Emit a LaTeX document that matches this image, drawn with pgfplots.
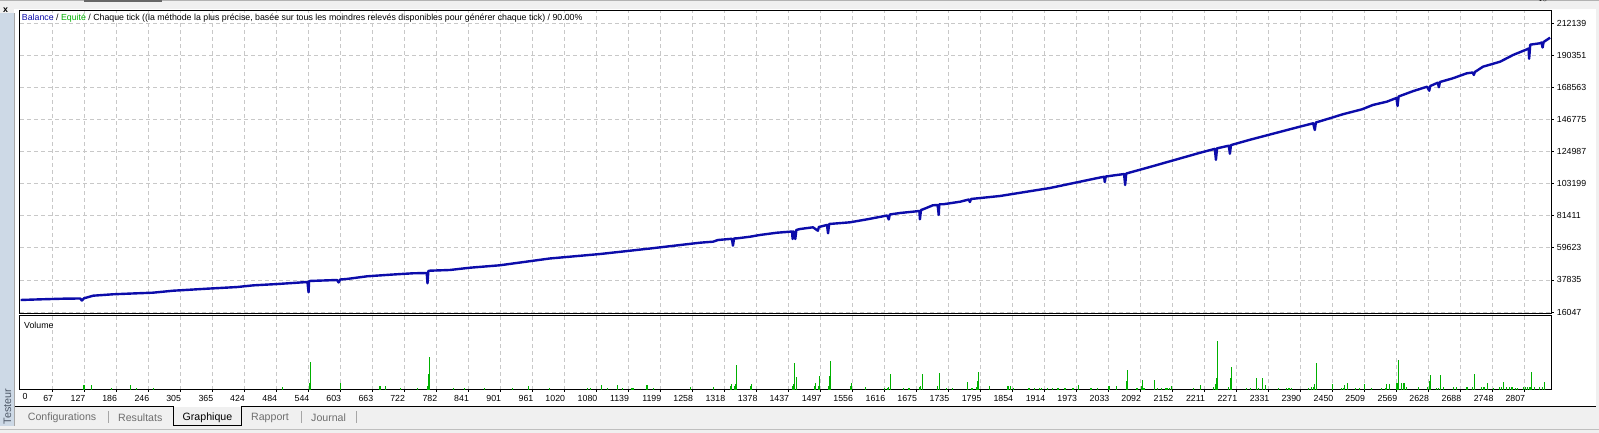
\documentclass[border=0pt]{standalone}
\usepackage{pgfplots}
\pgfplotsset{compat=1.18}
\usepackage{fontspec}
\setmainfont{Liberation Sans}
\definecolor{bal}{RGB}{12,12,170}
\definecolor{eq}{RGB}{0,176,0}
\definecolor{volg}{RGB}{0,176,0}
\definecolor{gridc}{RGB}{200,200,200}
\definecolor{winbg}{RGB}{240,240,240}
\definecolor{strip}{RGB}{205,217,230}
\definecolor{tabtxt}{RGB}{110,110,110}
\newcommand{\sm}{\fontsize{8.8}{10}\selectfont}

\begin{document}
\begin{tikzpicture}[x=1pt,y=1pt]
\useasboundingbox (0,0) rectangle (1599,433);
\fill[winbg] (0,0) rectangle (1599,433);
\draw[gray!60, line width=1pt] (0,432) -- (1599,432);
\draw[gray!80!black, line width=2pt] (84,432) -- (162,432);
\fill[white] (14,26) rectangle (1596,424);
\fill[strip] (0,7) rectangle (14,420);
\draw[gray!70] (14.5,7) -- (14.5,420);
\node[font=\bfseries\sm, inner sep=0pt] at (5.5,423) {x};
\node[rotate=90, inner sep=0pt, text={rgb,255:red,80;green,90;blue,105}, font=\fontsize{10.8}{12}\selectfont] at (7.5,26.5) {Testeur};
% tab bar
\draw[black, line width=1pt] (15,26) -- (173.6,26) -- (173.6,7) -- (241.8,7) -- (241.8,26) -- (1596,26);
\draw[gray!50, line width=1pt] (0,3) -- (1599,3);
\foreach \xx in {108,301,356} \draw[gray!70, line width=0.8pt] (\xx,10) -- (\xx,22);
\begin{scope}[font=\fontsize{10.6}{12}\selectfont]
\node[anchor=west, inner sep=0pt, text=tabtxt] at (27.7,15.5) {Configurations};
\node[anchor=west, inner sep=0pt, text=tabtxt] at (118,15.5) {Resultats};
\node[anchor=west, inner sep=0pt, text=black] at (182.5,15.5) {Graphique};
\node[anchor=west, inner sep=0pt, text=tabtxt] at (251,15.5) {Rapport};
\node[anchor=west, inner sep=0pt, text=tabtxt] at (311,15.5) {Journal};
\end{scope}

\begin{axis}[
  at={(20pt,119pt)}, anchor=south west, scale only axis,
  width=1531.7pt, height=303.3pt,
  xmin=6.9, xmax=2858, ymin=14689, ymax=220690,
  xtick={67,127,186,246,305,365,424,484,544,603,663,722,782,841,901,961,1020,1080,1139,1199,1258,1318,1378,1437,1497,1556,1616,1675,1735,1795,1854,1914,1973,2033,2092,2152,2211,2271,2331,2390,2450,2509,2569,2628,2688,2748,2807},
  xticklabels={},
  x tick style={draw=none},
  ytick={16047,37835,59623,81411,103199,124987,146775,168563,190351,212139},
  yticklabels={16047,37835,59623,81411,103199,124987,146775,168563,190351,212139},
  ytick pos=right, yticklabel pos=right,
  y tick style={black, line width=0.8pt},
  tick align=outside, major tick length=2pt,
  yticklabel style={anchor=west, inner sep=0pt, font=\sm, xshift=3pt},
  grid=major,
  major grid style={gridc, dash pattern=on 4pt off 3pt, line width=0.8pt},
  axis line style={black, line width=1pt},
]
\addplot[bal, line width=2.4pt, line join=round] coordinates {
(8,24200) (47,24670) (87,25080) (119,25220) (122,23850) (126,25350)
(143,27120) (180,28070) (225,28750) (254,29150) (292,30500) (355,31870)
(411,33000) (441,34140) (485,35020) (542,36420) (544,29420) (545,37100)
(560,37300) (597,37780) (600,36100) (603,38120) (615,38460) (653,40290)
(696,41380) (738,42330) (764,42530) (765.4,35540) (767,43890) (770,44100)
(807,44580) (845,46140) (900,47770) (993,52390) (1087,55440) (1180,59180)
(1273,63120) (1297,63800) (1306,64940) (1332,65780) (1334,61080) (1336,65970)
(1342,66100) (1366,67190) (1384,68350) (1416,69900) (1440,70580)
(1444,70720) (1445,65630) (1447,70800) (1450,65630) (1452,71760) (1459,72420)
(1483,73570) (1492,71260) (1494,73780) (1509,75140) (1511,69500) (1513,75820)
(1520,76020) (1552,76970) (1584,79000) (1621,81590) (1624,78870) (1626,82270)
(1645,83290) (1669,84170) (1681,84650) (1682,79000) (1684,85320) (1688,85800)
(1706,88510) (1715,88720) (1717,81930) (1718,89200) (1725,89200) (1757,90960)
(1773,92460) (1775,90760) (1777,92800) (1831,94830) (1924,100260)
(2017,107370) (2025,107900) (2026,104340) (2028,108080)
(2062,109750) (2064,102300) (2066,110090) (2110,114530) (2203,124150)
(2231,126850) (2233,119400) (2235,127200) (2257,129000) (2259,123500) (2261,129400)
(2296,133000) (2389,141900) (2414,144210) (2417,139660) (2419,144750)
(2445,147610) (2469,150330) (2505,153720) (2525,156640) (2551,158880)
(2569,161400) (2571,155960) (2573,162410) (2600,166060)
(2626,169070) (2630,166350) (2632,169540) (2646,171790) (2648,168660) (2650,172260)
(2674,174780) (2700,178170) (2711,178720) (2713,177020) (2715,179050)
(2730,182650) (2762,186050) (2786,190600) (2812,194470)
(2815,195020) (2816,188090) (2818,197610) (2836,198550)
(2839,199090) (2841,195680) (2843,199430) (2855,202350)
};
\end{axis}
\node[anchor=west, inner sep=0pt, font=\sm] at (21.7,414.7) {\textcolor{bal}{Balance} / \textcolor{eq}{Equité} / Chaque tick ((la méthode la plus précise, basée sur tous les moindres relevés disponibles pour générer chaque tick) / 90.00\%};

\begin{axis}[
  at={(20pt,43pt)}, anchor=south west, scale only axis,
  width=1531.7pt, height=74pt,
  xmin=6.9, xmax=2858, ymin=0, ymax=74,
  xtick={67,127,186,246,305,365,424,484,544,603,663,722,782,841,901,961,1020,1080,1139,1199,1258,1318,1378,1437,1497,1556,1616,1675,1735,1795,1854,1914,1973,2033,2092,2152,2211,2271,2331,2390,2450,2509,2569,2628,2688,2748,2807},
  xticklabels={67,127,186,246,305,365,424,484,544,603,663,722,782,841,901,961,1020,1080,1139,1199,1258,1318,1378,1437,1497,1556,1616,1675,1735,1795,1854,1914,1973,2033,2092,2152,2211,2271,2331,2390,2450,2509,2569,2628,2688,2748,2807},
  extra x ticks={6.9}, extra x tick labels={0},
  extra x tick style={grid=none, major tick length=0pt, xticklabel style={anchor=north west, xshift=1.5pt}},
  xtick pos=bottom, ytick=\empty,
  x tick style={black, line width=0.8pt},
  tick align=outside, major tick length=2pt,
  xticklabel style={anchor=north east, inner sep=0pt, font=\sm, yshift=-3pt, xshift=1pt},
  xmajorgrids,
  major grid style={gridc, dash pattern=on 4pt off 3pt, line width=0.8pt},
  axis line style={black, line width=1pt},
]
\addplot[ycomb, volg, line width=1.1pt, mark=none] coordinates {
(126,5) (140,5) (178,1.7) (213,5) (224,1.5) (256,1.5) (496,3.3) (545,7.3) (547,28.3)
(604,7.3) (677,4.3) (688,4.3) (715,1.5) (746,1.5) (765,4.3) (767,16) (769,33.3)
(813,1.5) (835,1.5) (871,1.5) (923,1.5) (954,4) (993,1.5) (1063,1.5) (1068,1.5)
(1089,5) (1100,1.5) (1119,5) (1129,1.5) (1146,1.5) (1149,1.5) (1174,5) (1186,1.5)
(1255,2.7) (1298,2.7) (1329,4) (1332,6) (1337,4) (1339,6) (1341,25) (1367,4) (1369,6)
(1445,4) (1447,6) (1449,27) (1453,12.7) (1485,4) (1487,7.3) (1493,4) (1495,14)
(1511,4) (1513,14) (1516,29) (1553,4) (1555,7.3) (1580,2.7)
(1616,1.5) (1621,1.5) (1624,2.7) (1627,16.3) (1652,1.5) (1660,1.5) (1663,1.5)
(1681,2.7) (1683,4) (1686,16.3) (1715,4) (1718,17.3) (1732,1.5) (1742,1.5)
(1771,8.3) (1779,1.5) (1787,3.3) (1789,9) (1791,18) (1812,4) (1846,4) (1851,4) (1857,1.5)
(1885,1.5) (1896,1.5) (1905,1.5) (1909,1.5) (1919,1.5) (1929,1.5) (1939,1.5) (1952,1.5) (1967,1.5)
(1977,4.7) (1999,1.5) (2002,1.5) (2012,1.5) (2034,4) (2048,4) (2066,9.3) (2068,20.3)
(2086,1.5) (2094,4) (2096,10.3) (2099,1.5) (2118,10.3) (2124,1.5) (2132,1.5) (2140,1.5)
(2143,1.5) (2146,1.5) (2150,4) (2191,1.5) (2205,5.3)
(2229,3.3) (2232,6) (2234,11.7) (2236,48.7) (2257,3.3) (2260,11.7) (2262,23.3)
(2290,1.5) (2298,1.5) (2308,11.7) (2312,1.5) (2319,11.7) (2326,5.3)
(2349,1.5) (2365,1.5) (2369,1.5) (2373,1.5) (2406,1.5) (2411,2.7) (2414,2.7) (2417,6) (2420,26.7)
(2450,6) (2467,1.5) (2470,1.5) (2473,5.3) (2478,6.7) (2493,1.5) (2501,1.5) (2509,6)
(2523,1.5) (2542,1.5) (2548,1.5) (2551,6) (2556,6)
(2570,6.7) (2573,30) (2579,6.7) (2583,6.7) (2587,3.3) (2610,2.7) (2626,2.7) (2630,9.3) (2632,15.3)
(2644,1.5) (2647,1.5) (2651,15.3) (2656,2.7) (2676,2.7) (2681,2.7) (2699,2.7) (2701,2.7) (2711,2.7) (2715,16)
(2728,2.7) (2732,2.7) (2738,7.3) (2749,1.5) (2761,2.7) (2764,3.3) (2769,8.3) (2774,2.7) (2779,2.7)
(2784,2.7) (2790,1.5) (2795,1.5) (2805,2.7) (2809,2.7) (2813,3.3) (2816,2.7) (2819,3.3) (2821,17.7)
(2826,3.3) (2835,2.7) (2841,3.3) (2844,8.3)
};
\end{axis}
\node[anchor=west, inner sep=0pt, font=\sm] at (24,108) {Volume};
\end{tikzpicture}
\end{document}
